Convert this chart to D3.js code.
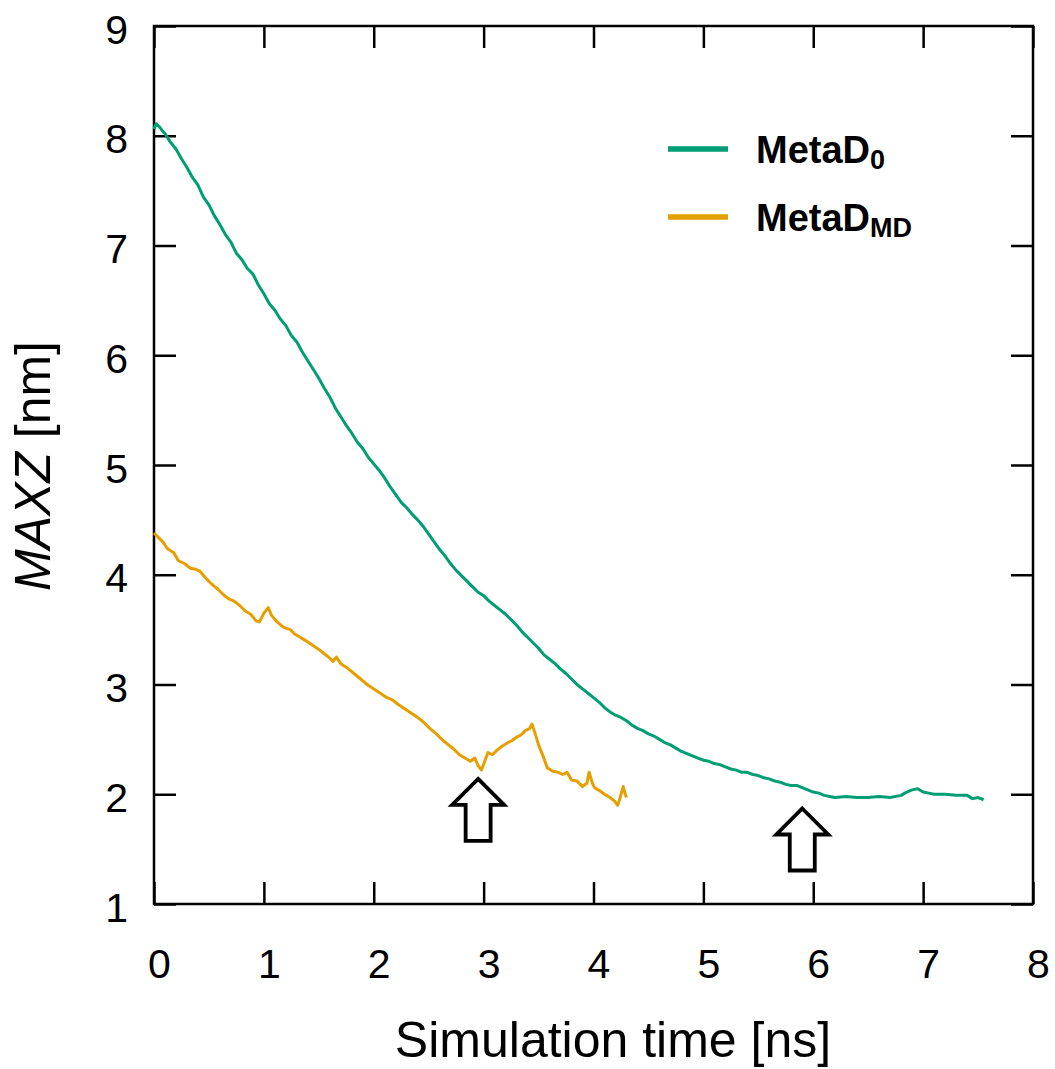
<!DOCTYPE html>
<html>
<head>
<meta charset="utf-8">
<script src="https://cdn.jsdelivr.net/npm/d3@7"></script>
<style>
  body { margin: 0; background: #fff; }
  svg { font-family: "Liberation Sans", Arial, sans-serif; }
  .axis text { font-size: 41px; fill: #000; }
  .axis line { stroke: #000; stroke-width: 2.5px; }
  .axis path { display: none; }
</style>
</head>
<body>
<svg id="chart"></svg>
<script>
// Base SVG values
let width = 1055
let height = 1069

let padding = { left: 154, top: 26, right: 22, bottom: 165 }

// Tick values
let xTicks = [0, 1, 2, 3, 4, 5, 6, 7, 8]
let yTicks = [1, 2, 3, 4, 5, 6, 7, 8, 9]

// MetaD_0 (green) : time [ns], MAXZ [nm]
let metaD0Time = [0.00, 0.02, 0.05, 0.08, 0.10, 0.15, 0.20, 0.25, 0.30, 0.35, 0.40, 0.45, 0.50, 0.55, 0.60, 0.65, 0.70, 0.75, 0.80, 0.85,
  0.90, 0.95, 1.00, 1.05, 1.10, 1.15, 1.20, 1.25, 1.30, 1.35, 1.40, 1.45, 1.50, 1.55, 1.60, 1.65, 1.70, 1.75, 1.80, 1.85,
  1.90, 1.95, 2.00, 2.05, 2.10, 2.15, 2.20, 2.25, 2.30, 2.35, 2.40, 2.45, 2.50, 2.55, 2.60, 2.65, 2.70, 2.75, 2.80, 2.85,
  2.90, 2.95, 3.00, 3.05, 3.10, 3.15, 3.20, 3.25, 3.30, 3.35, 3.40, 3.45, 3.50, 3.55, 3.60, 3.65, 3.70, 3.75, 3.80, 3.85,
  3.90, 3.95, 4.00, 4.05, 4.10, 4.15, 4.20, 4.25, 4.30, 4.35, 4.40, 4.45, 4.50, 4.55, 4.60, 4.65, 4.70, 4.75, 4.80, 4.85,
  4.90, 4.95, 5.00, 5.05, 5.10, 5.15, 5.20, 5.25, 5.30, 5.35, 5.40, 5.45, 5.50, 5.55, 5.60, 5.65, 5.70, 5.75, 5.80, 5.85,
  5.90, 5.95, 6.00, 6.05, 6.10, 6.15, 6.20, 6.30, 6.40, 6.50, 6.60, 6.70, 6.80, 6.85, 6.90, 6.95, 7.00, 7.05, 7.10, 7.20,
  7.30, 7.40, 7.45, 7.50, 7.55]
let metaD0Maxz = [8.06, 8.11, 8.08, 8.04, 8.02, 7.94, 7.88, 7.79, 7.71, 7.62, 7.55, 7.44, 7.37, 7.27, 7.19, 7.10, 7.03, 6.93, 6.87, 6.79,
  6.74, 6.64, 6.56, 6.47, 6.41, 6.33, 6.27, 6.18, 6.12, 6.03, 5.95, 5.87, 5.79, 5.70, 5.62, 5.52, 5.44, 5.36, 5.29, 5.21,
  5.15, 5.07, 5.01, 4.95, 4.88, 4.80, 4.73, 4.66, 4.61, 4.55, 4.50, 4.44, 4.37, 4.30, 4.23, 4.17, 4.10, 4.04, 3.99, 3.94,
  3.89, 3.84, 3.81, 3.76, 3.72, 3.68, 3.64, 3.59, 3.54, 3.48, 3.43, 3.38, 3.33, 3.27, 3.23, 3.19, 3.14, 3.10, 3.05, 3.00,
  2.96, 2.92, 2.88, 2.84, 2.79, 2.75, 2.72, 2.70, 2.67, 2.63, 2.60, 2.58, 2.55, 2.53, 2.50, 2.47, 2.45, 2.42, 2.39, 2.37,
  2.35, 2.33, 2.31, 2.30, 2.28, 2.27, 2.25, 2.23, 2.22, 2.20, 2.20, 2.18, 2.17, 2.15, 2.14, 2.12, 2.11, 2.09, 2.08, 2.08,
  2.06, 2.04, 2.02, 2.01, 1.99, 1.98, 1.97, 1.98, 1.97, 1.97, 1.98, 1.97, 1.99, 2.02, 2.04, 2.05, 2.02, 2.01, 2.00, 2.00,
  1.99, 1.99, 1.96, 1.97, 1.95]

// MetaD_MD (orange)
let metaDMDTime = [0.00, 0.03, 0.08, 0.12, 0.18, 0.22, 0.28, 0.33, 0.38, 0.42, 0.47, 0.52, 0.58, 0.63, 0.68, 0.73, 0.78, 0.83, 0.88, 0.93,
  0.96, 1.00, 1.04, 1.07, 1.12, 1.18, 1.24, 1.28, 1.33, 1.38, 1.44, 1.50, 1.55, 1.60, 1.63, 1.66, 1.70, 1.76, 1.82, 1.88,
  1.94, 2.00, 2.06, 2.12, 2.17, 2.22, 2.28, 2.34, 2.40, 2.46, 2.51, 2.57, 2.63, 2.68, 2.73, 2.78, 2.83, 2.88, 2.92, 2.95,
  2.98, 3.01, 3.04, 3.08, 3.12, 3.17, 3.22, 3.26, 3.30, 3.34, 3.38, 3.42, 3.44, 3.47, 3.50, 3.54, 3.58, 3.63, 3.68, 3.72,
  3.76, 3.80, 3.85, 3.90, 3.94, 3.96, 3.99, 4.01, 4.06, 4.10, 4.15, 4.19, 4.22, 4.24, 4.27, 4.29, 4.30]
let metaDMDMaxz = [4.38, 4.35, 4.30, 4.24, 4.20, 4.13, 4.10, 4.06, 4.05, 4.03, 3.97, 3.92, 3.87, 3.82, 3.78, 3.76, 3.72, 3.67, 3.64, 3.58,
  3.57, 3.65, 3.70, 3.63, 3.57, 3.52, 3.50, 3.46, 3.43, 3.40, 3.36, 3.32, 3.28, 3.24, 3.21, 3.25, 3.19, 3.15, 3.10, 3.05,
  3.00, 2.96, 2.92, 2.88, 2.86, 2.82, 2.78, 2.74, 2.70, 2.65, 2.60, 2.55, 2.49, 2.45, 2.41, 2.36, 2.33, 2.30, 2.33, 2.26,
  2.22, 2.30, 2.38, 2.36, 2.40, 2.44, 2.47, 2.49, 2.52, 2.54, 2.58, 2.60, 2.64, 2.55, 2.45, 2.35, 2.24, 2.21, 2.20, 2.18,
  2.20, 2.13, 2.12, 2.07, 2.10, 2.20, 2.10, 2.06, 2.03, 2.00, 1.97, 1.94, 1.90, 1.96, 2.07, 2.00, 1.97]

// Arrow markers (tip position in data units)
let arrowTime = [2.95, 5.90]
let arrowTipMaxz = [2.14, 1.87]

// Legend
let seriesNames = ["MetaD", "MetaD"]
let seriesSubs = ["0", "MD"]
let seriesColors = ["#009e73", "#e69f00"]

let svg = d3.select("#chart")
  .attr("width", width)
  .attr("height", height)

let xScale = d3.scaleLinear()
  .domain([0, 8])
  .range([padding.left, width - padding.right])
let yScale = d3.scaleLinear()
  .domain([1, 9])
  .range([height - padding.bottom, padding.top])

// Axes (ticks point inward, mirrored on top and right)
svg.append("g")
  .attr("class", "axis")
  .attr("transform", `translate(0,${height - padding.bottom})`)
  .call(d3.axisBottom(xScale).tickValues(xTicks).tickSize(-22).tickSizeOuter(0).tickPadding(45))
  .selectAll("text").attr("dx", 5)

svg.append("g")
  .attr("class", "axis")
  .attr("transform", `translate(0,${padding.top})`)
  .call(d3.axisTop(xScale).tickValues(xTicks).tickSize(-22).tickSizeOuter(0).tickFormat(""))

svg.append("g")
  .attr("class", "axis")
  .attr("transform", `translate(${padding.left},0)`)
  .call(d3.axisLeft(yScale).tickValues(yTicks).tickSize(-22).tickSizeOuter(0).tickPadding(26))
  .selectAll("text").attr("dy", "0.42em")

svg.append("g")
  .attr("class", "axis")
  .attr("transform", `translate(${width - padding.right},0)`)
  .call(d3.axisRight(yScale).tickValues(yTicks).tickSize(-22).tickSizeOuter(0).tickFormat(""))

// Frame
svg.append("rect")
  .attr("x", xScale(0))
  .attr("y", yScale(9))
  .attr("width", xScale(8) - xScale(0))
  .attr("height", yScale(1) - yScale(9))
  .attr("fill", "none")
  .attr("stroke", "#000")
  .attr("stroke-width", 2.5)

// Lines
let line = d3.line()
  .x(d => xScale(d[0]))
  .y(d => yScale(d[1]))

let series = [
  d3.zip(metaD0Time, metaD0Maxz),
  d3.zip(metaDMDTime, metaDMDMaxz)
]

svg.selectAll("path.series")
  .data(series)
  .enter()
  .append("path")
    .attr("class", "series")
    .attr("d", line)
    .attr("fill", "none")
    .attr("stroke", (d, i) => seriesColors[i])
    .attr("stroke-width", 3)
    .attr("stroke-linejoin", "round")

// Arrows
let arrowShape = d3.line()([[0, 0], [26, 26], [12.5, 26], [12.5, 62], [-12.5, 62], [-12.5, 26], [-26, 26]]) + "Z"
svg.selectAll("path.arrow")
  .data(d3.zip(arrowTime, arrowTipMaxz))
  .enter()
  .append("path")
    .attr("class", "arrow")
    .attr("d", arrowShape)
    .attr("transform", d => `translate(${xScale(d[0])},${yScale(d[1])})`)
    .attr("fill", "#fff")
    .attr("stroke", "#000")
    .attr("stroke-width", 3.8)
    .attr("stroke-linejoin", "miter")

// Legend
let legend = svg.append("g")
  .selectAll("g")
  .data(seriesNames)
  .enter()
  .append("g")
    .attr("transform", (d, i) => `translate(668,${149 + i * 68})`)

legend.append("line")
  .attr("x1", 0).attr("x2", 60)
  .attr("stroke", (d, i) => seriesColors[i])
  .attr("stroke-width", 5.5)

let legendText = legend.append("text")
  .attr("x", 88)
  .attr("y", 14)
  .style("font-size", "38px")
  .style("font-weight", "bold")
legendText.append("tspan").text(d => d)
legendText.append("tspan")
  .attr("dy", 6)
  .style("font-size", "27px")
  .text((d, i) => seriesSubs[i])

// Axis labels
svg.append("text")
  .attr("x", 613)
  .attr("y", 1057)
  .style("text-anchor", "middle")
  .style("font-size", "50px")
  .text("Simulation time [ns]")

let yTitle = svg.append("text")
  .attr("transform", "translate(50,466) rotate(-90)")
  .style("text-anchor", "middle")
  .style("font-size", "50px")
yTitle.append("tspan").style("font-style", "italic").text("MAXZ")
yTitle.append("tspan").text(" [nm]")
</script>
</body>
</html>
